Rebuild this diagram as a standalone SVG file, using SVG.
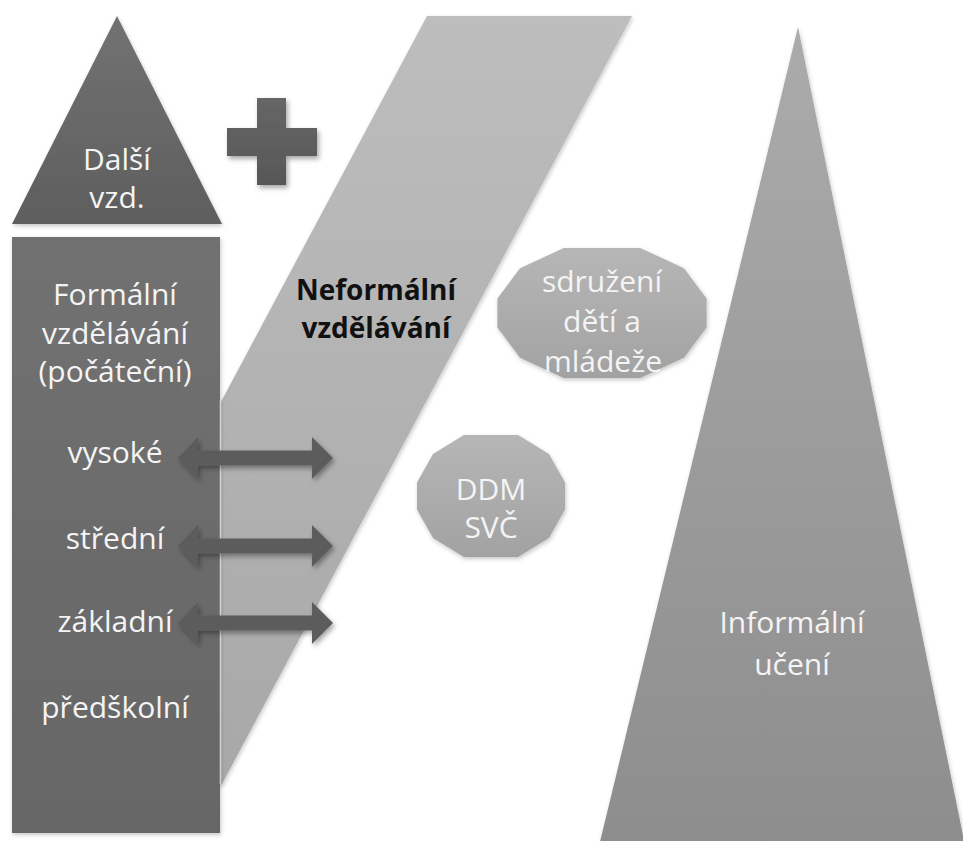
<svg xmlns="http://www.w3.org/2000/svg" width="963" height="841" viewBox="0 0 963 841">
<defs>
  <linearGradient id="gDarkTri" x1="0" y1="0" x2="0" y2="1">
    <stop offset="0" stop-color="#727272"/><stop offset="1" stop-color="#5e5e5e"/>
  </linearGradient>
  <linearGradient id="gRect" x1="0" y1="0" x2="0" y2="1">
    <stop offset="0" stop-color="#717171"/><stop offset="1" stop-color="#666666"/>
  </linearGradient>
  <linearGradient id="gPara" x1="0" y1="0" x2="0" y2="1">
    <stop offset="0" stop-color="#bdbdbd"/><stop offset="1" stop-color="#a8a8a8"/>
  </linearGradient>
  <linearGradient id="gBig" x1="0" y1="0" x2="0" y2="1">
    <stop offset="0" stop-color="#ababab"/><stop offset="1" stop-color="#8d8d8d"/>
  </linearGradient>
  <linearGradient id="gOct" x1="0" y1="0" x2="0" y2="1">
    <stop offset="0" stop-color="#b6b6b6"/><stop offset="1" stop-color="#a2a2a2"/>
  </linearGradient>
  <linearGradient id="gPlus" x1="0" y1="0" x2="0" y2="1">
    <stop offset="0" stop-color="#666666"/><stop offset="1" stop-color="#575757"/>
  </linearGradient>
  <filter id="shadow" x="-10%" y="-10%" width="125%" height="130%">
    <feDropShadow dx="2" dy="3" stdDeviation="2.5" flood-color="#000" flood-opacity="0.35"/>
  </filter>
  <filter id="softShadow" x="-10%" y="-10%" width="125%" height="130%">
    <feDropShadow dx="1" dy="2" stdDeviation="2" flood-color="#000" flood-opacity="0.22"/>
  </filter>
  <style>
    .lbl { font-family: "Open Sans", "Noto Sans", sans-serif; font-size: 30px; fill: #f4f4f4; text-anchor: middle; }
    .bold { font-family: "Open Sans", "Noto Sans", sans-serif; font-size: 28px; font-weight: bold; fill: #111111; text-anchor: middle; }
    .arrow { fill: #5c5c5c; filter: url(#shadow); }
  </style>
</defs>
<rect width="963" height="841" fill="#ffffff"/>

<g id="informal">
  <polygon points="798,27 966,850 598,850" fill="url(#gBig)" filter="url(#softShadow)"/>
  <text class="lbl" x="792" y="633">Informální</text>
  <text class="lbl" x="792" y="675">učení</text>
</g>

<g id="nonformal">
  <polygon points="427,16 632,16 222,784 17,784" fill="url(#gPara)" filter="url(#softShadow)"/>
  <text class="bold" x="376" y="300">Neformální</text>
  <text class="bold" x="376" y="338">vzdělávání</text>
</g>

<g id="further">
  <polygon points="117,16 222,224 12,224" fill="url(#gDarkTri)" filter="url(#softShadow)"/>
  <text class="lbl" x="117" y="170">Další</text>
  <text class="lbl" x="117" y="208">vzd.</text>
</g>

<g id="plus">
  <path d="M257,98 H286 V128 H317 V156 H286 V185 H257 V156 H227 V128 H257 Z" fill="url(#gPlus)" filter="url(#shadow)"/>
</g>

<g id="formal">
  <rect x="12" y="237" width="208" height="596" fill="url(#gRect)" filter="url(#softShadow)"/>
  <line x1="220.5" y1="400" x2="220.5" y2="784" stroke="#d4d4d4" stroke-width="1.5"/>
  <text class="lbl" x="115" y="305">Formální</text>
  <text class="lbl" x="115" y="344">vzdělávání</text>
  <text class="lbl" x="115" y="382">(počáteční)</text>
  <text class="lbl" x="115" y="463">vysoké</text>
  <text class="lbl" x="115" y="549">střední</text>
  <text class="lbl" x="115" y="632">základní</text>
  <text class="lbl" x="115" y="718">předškolní</text>
</g>

<g id="sdruzeni">
  <polygon points="706.6,298.5 684,268.3 640.3,248.1 563.7,248.1 520,268.3 497.4,298.5 497.4,327.5 520,357.7 563.7,377.9 640.3,377.9 684,357.7 706.6,327.5" fill="url(#gOct)" filter="url(#softShadow)"/>
  <text class="lbl" x="602" y="292">sdružení</text>
  <text class="lbl" x="602" y="332">dětí a</text>
  <text class="lbl" x="603" y="372">mládeže</text>
</g>

<g id="ddm">
  <polygon points="565,482.4 549,454 518.1,435 463.9,435 433,454 417,482.4 417,509.6 433,538 463.9,557 518.1,557 549,538 565,509.6" fill="url(#gOct)" filter="url(#softShadow)"/>
  <text class="lbl" x="491" y="500">DDM</text>
  <text class="lbl" x="491" y="538">SVČ</text>
</g>

<g id="connectors">
  <path class="arrow" d="M178,458 L198,437 V450.5 H312 V437 L333,458 L312,479 V465.5 H198 V479 Z"/>
  <path class="arrow" d="M178,546 L198,525 V538.5 H312 V525 L333,546 L312,567 V553.5 H198 V567 Z"/>
  <path class="arrow" d="M178,623 L198,602 V615.5 H312 V602 L333,623 L312,644 V630.5 H198 V644 Z"/>
</g>
</svg>
